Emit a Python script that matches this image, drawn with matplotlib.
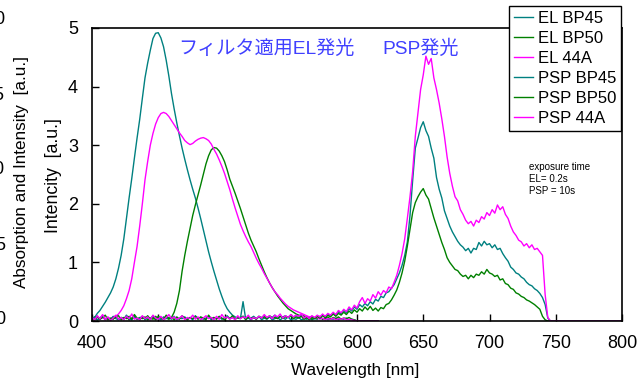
import numpy as np
import matplotlib
matplotlib.use("Agg")
import matplotlib.pyplot as plt

plt.rcParams['font.family'] = ['Liberation Sans', 'Noto Sans CJK JP', 'DejaVu Sans']

# ---------------- data ----------------
# EL spectra: 400 nm .. 616 nm, 2 nm step
el_start, el_step = 400, 2
el_bp45 = [
    0.03, 0.06, 0.13, 0.18, 0.25, 0.32, 0.40, 0.48, 0.58, 0.72,
    0.90, 1.12, 1.40, 1.75, 2.10, 2.43, 2.78, 3.12, 3.44, 3.80,
    4.15, 4.40, 4.62, 4.82, 4.91, 4.92, 4.83, 4.68, 4.45, 4.18,
    3.88, 3.62, 3.38, 3.16, 2.95, 2.76, 2.58, 2.41, 2.25, 2.10,
    1.93, 1.75, 1.56, 1.37, 1.18, 1.01, 0.85, 0.70, 0.55, 0.42,
    0.30, 0.21, 0.15, 0.10, 0.07, 0.05, 0.04, 0.33, 0.03, 0.05,
    0.02, 0.06, 0.03, 0.08, 0.02, 0.05, 0.03, 0.07, 0.02, 0.04,
    0.06, 0.02, 0.05, 0.03, 0.07, 0.02, 0.04, 0.03, 0.06, 0.02,
    0.04, 0.03, 0.05, 0.02, 0.04, 0.03, 0.06, 0.03, 0.05, 0.02,
    0.04, 0.03, 0.05, 0.02, 0.04, 0.03, 0.05, 0.02, 0.03, 0.02,
    0.0, 0.0, 0.0, 0.0, 0.0, 0.0, 0.0, 0.0, 0.0]
el_bp50 = [
    0.04, 0.07, 0.02, 0.05, 0.08, 0.03, 0.06, 0.02, 0.05, 0.09,
    0.03, 0.06, 0.04, 0.07, 0.02, 0.05, 0.08, 0.03, 0.06, 0.04,
    0.07, 0.02, 0.05, 0.03, 0.08, 0.04, 0.06, 0.02, 0.05, 0.03,
    0.06, 0.15, 0.30, 0.52, 0.85, 1.12, 1.36, 1.58, 1.80, 1.98,
    2.15, 2.32, 2.50, 2.68, 2.82, 2.92, 2.96, 2.95, 2.90, 2.82,
    2.72, 2.58, 2.42, 2.30, 2.18, 2.05, 1.92, 1.78, 1.64, 1.50,
    1.38, 1.28, 1.18, 1.06, 0.95, 0.84, 0.74, 0.65, 0.57, 0.50,
    0.43, 0.37, 0.31, 0.26, 0.21, 0.18, 0.15, 0.12, 0.10, 0.08,
    0.09, 0.05, 0.07, 0.03, 0.06, 0.04, 0.08, 0.03, 0.05, 0.07,
    0.03, 0.06, 0.04, 0.07, 0.03, 0.05, 0.04, 0.06, 0.03, 0.02,
    0.0, 0.0, 0.0, 0.0, 0.0, 0.0, 0.0, 0.0, 0.0]
el_44a = [
    0.05, 0.02, 0.07, 0.03, 0.06, 0.02, 0.05, 0.04, 0.07, 0.08,
    0.12, 0.18, 0.26, 0.38, 0.52, 0.72, 1.00, 1.27, 1.62, 2.00,
    2.41, 2.72, 3.00, 3.20, 3.36, 3.47, 3.54, 3.56, 3.54, 3.49,
    3.42, 3.35, 3.28, 3.21, 3.15, 3.08, 3.04, 3.01, 3.03, 3.07,
    3.10, 3.12, 3.13, 3.11, 3.08, 3.02, 2.93, 2.85, 2.75, 2.64,
    2.52, 2.38, 2.24, 2.08, 1.93, 1.79, 1.65, 1.54, 1.44, 1.35,
    1.27, 1.17, 1.07, 0.98, 0.90, 0.81, 0.73, 0.65, 0.57, 0.50,
    0.45, 0.39, 0.34, 0.29, 0.25, 0.22, 0.19, 0.17, 0.15, 0.13,
    0.11, 0.09, 0.07, 0.08, 0.05, 0.06, 0.03, 0.05, 0.02, 0.04,
    0.03, 0.05, 0.02, 0.04, 0.03, 0.05, 0.02, 0.03, 0.02, 0.01,
    0.0, 0.0, 0.0, 0.0, 0.0, 0.0, 0.0, 0.0, 0.0]

# PSP spectra: 400 nm .. 746 nm, 2 nm step, then zero up to 800 nm
psp_start, psp_step = 400, 2
psp_end_wl, psp_end_val = 800, 0.0
psp_bp45 = [
    0.03, 0.07, 0.02, 0.05, 0.09, 0.03, 0.06, 0.02, 0.08, 0.04,
    0.02, 0.06, 0.03, 0.10, 0.04, 0.02, 0.07, 0.03, 0.05, 0.08,
    0.02, 0.06, 0.04, 0.09, 0.03, 0.05, 0.02, 0.07, 0.04, 0.06,
    0.03, 0.08, 0.02, 0.05, 0.04, 0.07, 0.03, 0.06, 0.02, 0.09,
    0.04, 0.06, 0.03, 0.05, 0.08, 0.02, 0.06, 0.04, 0.07, 0.03,
    0.05, 0.09, 0.04, 0.06, 0.03, 0.07, 0.05, 0.08, 0.04, 0.06,
    0.05, 0.08, 0.04, 0.07, 0.06, 0.09, 0.05, 0.08, 0.06, 0.10,
    0.05, 0.08, 0.07, 0.09, 0.06, 0.10, 0.07, 0.09, 0.08, 0.11,
    0.04, 0.07, 0.03, 0.08, 0.05, 0.09, 0.06, 0.10, 0.07, 0.12,
    0.09, 0.13, 0.10, 0.16, 0.12, 0.18, 0.14, 0.21, 0.17, 0.24,
    0.20, 0.28, 0.24, 0.30, 0.26, 0.33, 0.29, 0.37, 0.34, 0.42,
    0.40, 0.48, 0.50, 0.56, 0.62, 0.72, 0.82, 0.95, 1.12, 1.35,
    1.80, 2.40, 2.95, 3.12, 3.30, 3.40, 3.25, 3.15, 2.95, 2.78,
    2.45, 2.25, 2.10, 1.88, 1.75, 1.62, 1.52, 1.44, 1.36, 1.30,
    1.26, 1.20, 1.24, 1.16, 1.24, 1.22, 1.34, 1.28, 1.36, 1.30,
    1.32, 1.25, 1.30, 1.22, 1.24, 1.15, 1.08, 1.02, 0.92, 0.88,
    0.82, 0.80, 0.75, 0.72, 0.66, 0.62, 0.60, 0.55, 0.52, 0.47,
    0.40, 0.28, 0.05, 0.00]
psp_bp50 = [
    0.05, 0.02, 0.08, 0.03, 0.06, 0.10, 0.02, 0.05, 0.03, 0.07,
    0.09, 0.02, 0.06, 0.04, 0.08, 0.03, 0.11, 0.05, 0.02, 0.07,
    0.04, 0.09, 0.03, 0.06, 0.02, 0.08, 0.05, 0.03, 0.10, 0.04,
    0.06, 0.02, 0.07, 0.03, 0.09, 0.05, 0.02, 0.06, 0.04, 0.08,
    0.03, 0.07, 0.05, 0.02, 0.10, 0.04, 0.06, 0.03, 0.08, 0.05,
    0.02, 0.07, 0.04, 0.09, 0.03, 0.06, 0.05, 0.08, 0.02, 0.07,
    0.04, 0.06, 0.03, 0.08, 0.05, 0.07, 0.04, 0.09, 0.05, 0.06,
    0.04, 0.08, 0.05, 0.07, 0.06, 0.09, 0.04, 0.07, 0.05, 0.08,
    0.03, 0.06, 0.02, 0.07, 0.04, 0.08, 0.05, 0.09, 0.06, 0.10,
    0.07, 0.12, 0.08, 0.13, 0.10, 0.15, 0.11, 0.17, 0.13, 0.19,
    0.15, 0.21, 0.17, 0.24, 0.19, 0.25, 0.18, 0.22, 0.17, 0.23,
    0.21, 0.28, 0.30, 0.36, 0.44, 0.53, 0.66, 0.82, 1.02, 1.28,
    1.56, 1.85, 2.02, 2.12, 2.20, 2.26, 2.15, 2.08, 1.92, 1.76,
    1.62, 1.48, 1.34, 1.22, 1.08, 1.00, 0.94, 0.88, 0.86, 0.80,
    0.76, 0.78, 0.72, 0.78, 0.74, 0.80, 0.78, 0.84, 0.80, 0.88,
    0.82, 0.80, 0.76, 0.78, 0.70, 0.72, 0.64, 0.62, 0.56, 0.54,
    0.48, 0.46, 0.42, 0.40, 0.36, 0.34, 0.31, 0.28, 0.24, 0.20,
    0.08, 0.02, 0.00, 0.00]
psp_44a = [
    0.06, 0.02, 0.09, 0.04, 0.11, 0.03, 0.07, 0.01, 0.05, 0.10,
    0.03, 0.06, 0.02, 0.08, 0.04, 0.12, 0.03, 0.05, 0.02, 0.09,
    0.04, 0.07, 0.02, 0.10, 0.05, 0.03, 0.08, 0.02, 0.06, 0.11,
    0.04, 0.07, 0.03, 0.05, 0.09, 0.02, 0.06, 0.04, 0.10, 0.03,
    0.07, 0.02, 0.05, 0.09, 0.04, 0.06, 0.02, 0.08, 0.03, 0.11,
    0.05, 0.07, 0.03, 0.06, 0.02, 0.09, 0.04, 0.07, 0.05, 0.10,
    0.03, 0.06, 0.04, 0.08, 0.05, 0.11, 0.06, 0.09, 0.04, 0.10,
    0.07, 0.12, 0.05, 0.09, 0.06, 0.11, 0.07, 0.10, 0.08, 0.12,
    0.05, 0.08, 0.04, 0.09, 0.06, 0.10, 0.07, 0.12, 0.08, 0.13,
    0.10, 0.15, 0.11, 0.18, 0.14, 0.20, 0.16, 0.24, 0.19, 0.27,
    0.22, 0.33, 0.40, 0.30, 0.38, 0.34, 0.45, 0.39, 0.50, 0.44,
    0.52, 0.48, 0.58, 0.55, 0.66, 0.78, 0.95, 1.15, 1.40, 1.75,
    2.12, 2.55, 3.15, 3.55, 3.95, 4.20, 4.52, 4.38, 4.48, 4.15,
    3.95, 3.72, 3.45, 3.15, 2.80, 2.52, 2.30, 2.12, 2.05, 1.90,
    1.82, 1.72, 1.66, 1.70, 1.62, 1.72, 1.68, 1.78, 1.74, 1.85,
    1.80, 1.90, 1.84, 1.98, 1.90, 1.95, 1.82, 1.75, 1.62, 1.52,
    1.46, 1.38, 1.35, 1.28, 1.32, 1.25, 1.30, 1.22, 1.24, 1.18,
    1.12, 0.45, 0.06, 0.00]

labels = ["EL BP45", "EL BP50", "EL 44A", "PSP BP45", "PSP BP50", "PSP 44A"]
colors = ["#008080", "#008000", "#ff00ff", "#008080", "#008000", "#ff00ff"]
x_ticks = [400, 450, 500, 550, 600, 650, 700, 750, 800]
y_ticks = [0, 1, 2, 3, 4, 5]
hidden_axis_labels = ["0", "5", "10", "15", "20"]

# ---------------- figure ----------------
W, H = 642, 385
fig = plt.figure(figsize=(W / 100, H / 100), dpi=100)
L, R, T, B = 92, 622, 28, 321
ax = fig.add_axes([L / W, 1 - B / H, (R - L) / W, (B - T) / H])


def el_x(v):
    return el_start + el_step * np.arange(len(v))


def psp_xy(v):
    x = psp_start + psp_step * np.arange(len(v))
    return np.append(x, psp_end_wl), np.append(np.array(v), psp_end_val)


series = [(el_x(el_bp45), el_bp45), (el_x(el_bp50), el_bp50), (el_x(el_44a), el_44a),
          psp_xy(psp_bp45), psp_xy(psp_bp50), psp_xy(psp_44a)]
for (x, y), lab, c in zip(series, labels, colors):
    ax.plot(x, y, color=c, lw=1.0, label=lab)

ax.set_xlim(400, 800)
ax.set_ylim(0, 5)
ax.set_xticks(x_ticks)
ax.set_yticks(y_ticks)
ax.tick_params(direction='in', length=5, width=1, labelsize=13, pad=10)
for s in ax.spines.values():
    s.set_linewidth(1.2)
    s.set_color('black')

fig.text(355 / W, 1 - 370 / H, "Wavelength [nm]", ha='center', va='center', fontsize=12.3)
fig.text(53 / W, 1 - 176 / H, "Intencity  [a.u.]", rotation=90, ha='center', va='center', fontsize=12.8)
fig.text(22 / W, 1 - 172 / H, "Absorption and Intensity  [a.u.]", rotation=90,
         ha='center', va='center', fontsize=12.3)
for i, lab in enumerate(hidden_axis_labels):
    fig.text(5 / W, 1 - (320 - 75 * i) / H, lab, ha='right', va='center', fontsize=13)

ax.text(465, 4.64, "フィルタ適用EL発光", color='#4040ff', fontsize=13.8,
        family=['Liberation Sans', 'Noto Sans CJK JP'], va='center', ha='left')
ax.text(619, 4.64, "PSP発光", color='#4040ff', fontsize=13.8,
        family=['Liberation Sans', 'Noto Sans CJK JP'], va='center', ha='left')
ax.text(730, 2.72, "exposure time\nEL= 0.2s\nPSP = 10s", fontsize=7, va='top', ha='left',
        linespacing=1.25)

leg = ax.legend(loc='upper right', bbox_to_anchor=(621 / W, 1 - 6 / H),
                bbox_transform=fig.transFigure, borderaxespad=0, fontsize=12,
                frameon=True, fancybox=False, edgecolor='black', framealpha=1,
                handlelength=1.1, handletextpad=0.3, labelspacing=0.3, borderpad=0.3)
leg.get_frame().set_linewidth(1.0)

fig.savefig("out.png", dpi=100)
